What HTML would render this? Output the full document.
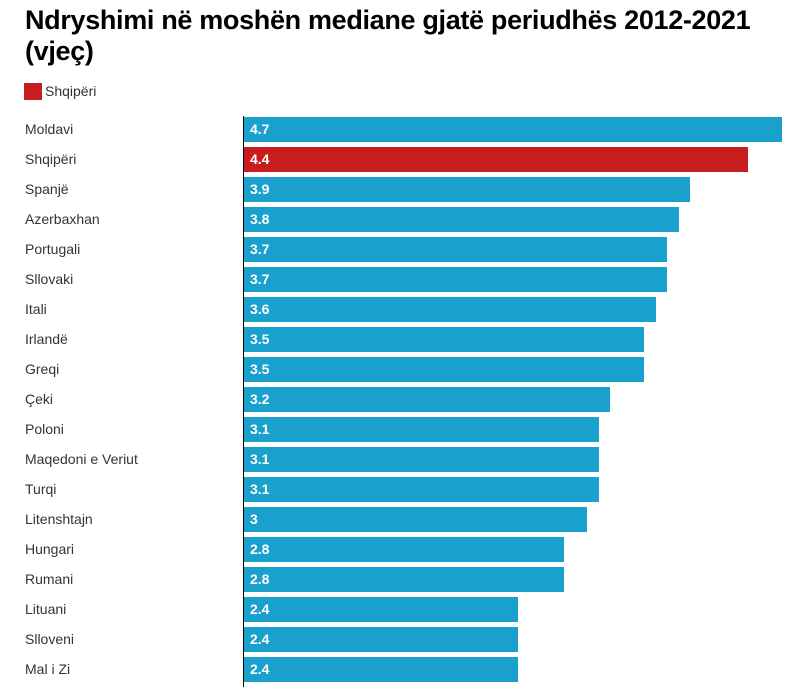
<!DOCTYPE html><html><head><style>
body{margin:0;width:793px;height:687px;background:#fff;font-family:"Liberation Sans",sans-serif;position:relative;overflow:hidden}
.t{position:absolute;left:25px;top:5px;font-size:27px;font-weight:bold;line-height:31px;color:#000;letter-spacing:-0.33px}
.lg{position:absolute;left:24px;top:83px;width:18px;height:17px;background:#c81d1f}
.lt{position:absolute;left:45px;top:83px;font-size:14px;color:#333}
.l{position:absolute;left:25px;font-size:14px;color:#333;line-height:16px}
.b{position:absolute;left:244px;height:25px;background:#1aa0cd;color:#fff;font-weight:bold;font-size:14px;line-height:25px;box-sizing:border-box;padding-left:6px}
.ax{position:absolute;left:243px;top:116px;width:1px;height:571px;background:#000}
</style></head><body>
<div class="t">Ndryshimi në moshën mediane gjatë periudhës 2012-2021<br>(vjeç)</div>
<div class="lg"></div><div class="lt">Shqipëri</div>
<div id="c"></div>
<div class="ax"></div>
<script>
var d=[["Moldavi",4.7],["Shqipëri",4.4],["Spanjë",3.9],["Azerbaxhan",3.8],["Portugali",3.7],["Sllovaki",3.7],["Itali",3.6],["Irlandë",3.5],["Greqi",3.5],["Çeki",3.2],["Poloni",3.1],["Maqedoni e Veriut",3.1],["Turqi",3.1],["Litenshtajn",3],["Hungari",2.8],["Rumani",2.8],["Lituani",2.4],["Slloveni",2.4],["Mal i Zi",2.4]];
var h="";d.forEach(function(r,i){var y=117+i*30;var w=Math.round(r[1]*114.7)-1;
h+='<div class="l" style="top:'+(y+4)+'px">'+r[0]+'</div><div class="b" style="top:'+y+'px;width:'+w+'px;'+(i==1?'background:#c81d1f':'')+'">'+r[1]+'</div>';});
document.getElementById("c").innerHTML=h;
</script>
</body></html>
